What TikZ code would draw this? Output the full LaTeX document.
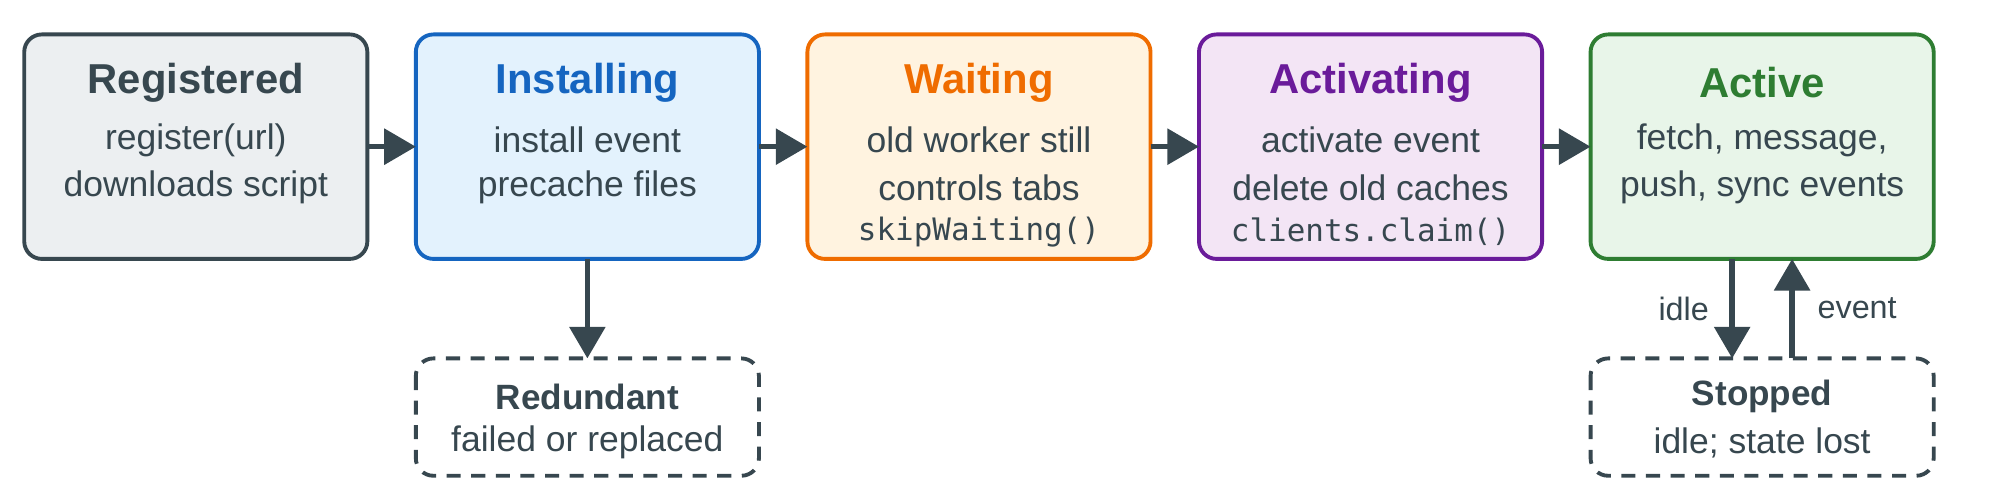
\documentclass[tikz,border=0pt]{standalone}
\usepackage{fontspec}
\setmainfont{Liberation Sans}
\setmonofont{DejaVu Sans Mono}
\usetikzlibrary{arrows.meta}
\definecolor{dk}{HTML}{37474F}
\definecolor{gf}{HTML}{ECEFF1}
\definecolor{bf}{HTML}{E3F2FD}\definecolor{bd}{HTML}{1565C0}
\definecolor{of}{HTML}{FFF3E0}\definecolor{od}{HTML}{EF6C00}
\definecolor{pf}{HTML}{F3E5F5}\definecolor{pd}{HTML}{6A1B9A}
\definecolor{ef}{HTML}{E8F5E9}\definecolor{ed}{HTML}{2E7D32}
\begin{document}
\begin{tikzpicture}[x=0.012755cm,y=-0.012755cm,
 box/.style={draw=#1,line width=1.1pt,rounded corners=5pt},
 dbox/.style={draw=dk,line width=1.1pt,rounded corners=5pt,dash pattern=on 4pt off 3pt},
 ttl/.style={font=\fontsize{11.9}{13}\selectfont\bfseries,text=#1},
 bd/.style={font=\fontsize{10.1}{12}\selectfont,text=dk},
 mono/.style={font=\fontsize{8.8}{10}\selectfont\ttfamily,text=dk},
 arr/.style={draw=dk,line width=1.6pt,-{Triangle[length=9pt,width=10pt]}}]
\useasboundingbox (0,0) rectangle (1568,392);
\foreach \n/\x/\f/\d in {reg/19/gf/dk,ins/326/bf/bd,wai/633/of/od,act/940/pf/pd,acv/1247/ef/ed}{
 \draw[box=\d,fill=\f] (\x,27) rectangle ++(269,176);
 \path (\x,27) ++(134.5,88) coordinate (\n);
 \coordinate (\n-w) at (\x,115); \coordinate (\n-e) at ({\x+269},115);
}
\node[ttl=dk] (t1) at (153.5,65) {Registered};
\node[bd] (l11) at (153.5,110) {register(url)};
\node[bd] (l12) at (153.5,147) {downloads script};
\node[ttl=bd] (t2) at (460.5,65) {Installing};
\node[bd] (l21) at (460.5,110) {install event};
\node[bd] (l22) at (460.5,147) {precache files};
\node[ttl=od] (t3) at (767.5,65) {Waiting};
\node[bd] (l31) at (767.5,110) {old worker still};
\node[bd] (l32) at (767.5,147) {controls tabs};
\node[mono] (l33) at (767.5,182) {skipWaiting()};
\node[ttl=pd] (t4) at (1074.5,65) {Activating};
\node[bd] (l41) at (1074.5,110) {activate event};
\node[bd] (l42) at (1074.5,147) {delete old caches};
\node[mono] (l43) at (1074.5,182) {clients.claim()};
\node[ttl=ed] (t5) at (1381.5,65) {Active};
\node[bd] (l51) at (1381.5,110) {fetch, message,};
\node[bd] (l52) at (1381.5,147) {push, sync events};
\draw[dbox] (326,281) rectangle (595,373);
\draw[dbox] (1247,281) rectangle (1516,373);
\node[font=\fontsize{10}{12}\selectfont\bfseries,text=dk] (rt) at (460.5,311) {Redundant};
\node[bd] (rl) at (460.5,347) {failed or replaced};
\node[font=\fontsize{10}{12}\selectfont\bfseries,text=dk] (st) at (1381.5,311) {Stopped};
\node[bd] (sl) at (1381.5,347) {idle; state lost};
\draw[arr] (reg-e) -- (ins-w);
\draw[arr] (ins-e) -- (wai-w);
\draw[arr] (wai-e) -- (act-w);
\draw[arr] (act-e) -- (acv-w);
\coordinate (a1) at (460.5,203); \coordinate (a2) at (460.5,281);
\draw[arr] (a1) -- (a2);
\coordinate (b1) at (1358,203); \coordinate (b2) at (1358,281);
\coordinate (c1) at (1405,281); \coordinate (c2) at (1405,203);
\draw[arr] (b1) -- (b2);
\draw[arr] (c1) -- (c2);
\node[bd,font=\fontsize{9.2}{11}\selectfont] (idle) at (1320,242) {idle};
\node[bd,font=\fontsize{9.2}{11}\selectfont] (ev) at (1456,242) {event};
\end{tikzpicture}
\end{document}
